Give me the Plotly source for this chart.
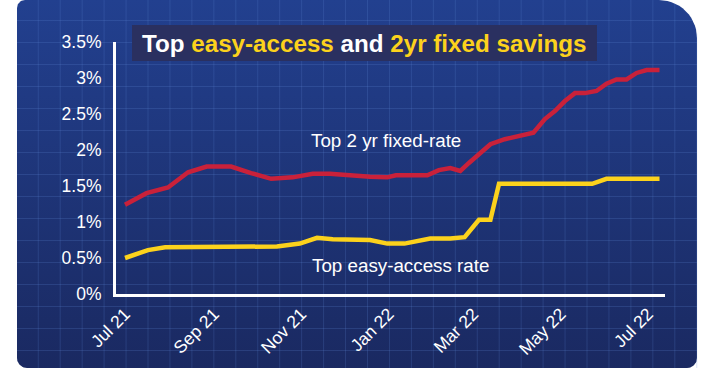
import math
import plotly.graph_objects as go

# ---------------- data ----------------
fixed_dates = ["2021-07-01", "2021-07-16", "2021-07-31", "2021-08-14", "2021-08-27",
               "2021-09-13", "2021-09-27", "2021-10-11", "2021-10-26", "2021-11-09",
               "2021-11-21", "2021-12-03", "2021-12-19", "2021-12-31", "2022-01-06",
               "2022-01-28", "2022-02-05", "2022-02-13", "2022-02-20", "2022-02-26",
               "2022-03-06", "2022-03-13", "2022-03-23", "2022-04-02", "2022-04-12",
               "2022-04-20", "2022-04-27", "2022-05-04", "2022-05-11", "2022-05-18",
               "2022-05-26", "2022-06-02", "2022-06-09", "2022-06-16", "2022-06-23",
               "2022-06-30", "2022-07-09"]
fixed_rate = [1.24, 1.40, 1.48, 1.69, 1.77,
              1.77, 1.68, 1.60, 1.62, 1.67,
              1.67, 1.65, 1.63, 1.62, 1.65,
              1.65, 1.72, 1.75, 1.71, 1.82,
              1.95, 2.08, 2.15, 2.20, 2.24,
              2.43, 2.54, 2.68, 2.79, 2.79,
              2.82, 2.92, 2.98, 2.98, 3.07,
              3.11, 3.11]

easy_dates = ["2021-07-01", "2021-07-17", "2021-07-29", "2021-10-15", "2021-10-31",
              "2021-11-12", "2021-11-23", "2021-12-19", "2021-12-31", "2022-01-12",
              "2022-01-30", "2022-02-13", "2022-02-23", "2022-03-05", "2022-03-13",
              "2022-03-19", "2022-05-23", "2022-06-02", "2022-07-09"]
easy_rate = [0.50, 0.61, 0.65, 0.66, 0.70,
             0.78, 0.76, 0.75, 0.70, 0.70,
             0.77, 0.77, 0.79, 1.03, 1.03,
             1.53, 1.53, 1.60, 1.60]

x_tick_vals = ["2021-07-01", "2021-09-01", "2021-11-01", "2022-01-01",
               "2022-03-01", "2022-05-01", "2022-07-01"]
x_tick_text = ["Jul 21", "Sep 21", "Nov 21", "Jan 22", "Mar 22", "May 22", "Jul 22"]
y_tick_vals = [0, 0.5, 1, 1.5, 2, 2.5, 3, 3.5]
y_tick_text = ["0%", "0.5%", "1%", "1.5%", "2%", "2.5%", "3%", "3.5%"]

title_parts = [("Top ", "white"), ("easy-access", "#fcd21c"), (" and ", "white"),
               ("2yr fixed savings", "#fcd21c")]
label_fixed = "Top 2 yr fixed-rate"
label_easy = "Top easy-access rate"

# ---------------- styling / geometry ----------------
W, H = 713, 390
FONT = "Liberation Sans, Arial, Helvetica, sans-serif"
RED = "#c9213a"
YELLOW = "#fcd21c"
BG_TOP = "#22408f"
BG_BOT = "#1a2961"

# plot area in pixels
PL, PR, PT, PB = 116, 665, 42, 294

# background panel (pixel coords) with individual corner radii
bx0, bx1, by0, by1 = 17, 697, 0, 368
r_tl, r_tr, r_br, r_bl = 8, 38, 10, 10


def arc(cx, cy, r, a0, a1, n=14):
    return [(cx + r * math.cos(math.radians(a0 + (a1 - a0) * i / n)),
             cy + r * math.sin(math.radians(a0 + (a1 - a0) * i / n))) for i in range(n + 1)]


pts = []
pts += arc(bx0 + r_tl, by0 + r_tl, r_tl, 180, 270)
pts += arc(bx1 - r_tr, by0 + r_tr, r_tr, 270, 360)
pts += arc(bx1 - r_br, by1 - r_br, r_br, 0, 90)
pts += arc(bx0 + r_bl, by1 - r_bl, r_bl, 90, 180)
pts.append(pts[0])
bg_x = [p[0] for p in pts]
bg_y = [H - p[1] for p in pts]

# faint grid over the panel
gx, gy = [], []
step = 21.95
x = bx0 - 0.7 + step
while x < bx1:
    ytop = by0
    if x > bx1 - r_tr:
        dx = x - (bx1 - r_tr)
        ytop = by0 + r_tr - math.sqrt(max(r_tr ** 2 - dx ** 2, 0))
    elif x < bx0 + r_tl:
        dx = (bx0 + r_tl) - x
        ytop = by0 + r_tl - math.sqrt(max(r_tl ** 2 - dx ** 2, 0))
    gx += [x, x, None]
    gy += [H - ytop, H - by1, None]
    x += step
y = 20.5
while y < by1:
    xr = bx1
    if y < by0 + r_tr:
        dy = (by0 + r_tr) - y
        xr = bx1 - r_tr + math.sqrt(max(r_tr ** 2 - dy ** 2, 0))
    gx += [bx0, xr, None]
    gy += [H - y, H - y, None]
    y += 22

# title box
tb_x0, tb_x1, tb_y0, tb_y1 = 132, 597, 25, 61

fig = go.Figure()

fig.add_trace(go.Scatter(
    x=bg_x, y=bg_y, mode="lines", fill="toself", line=dict(width=0),
    fillgradient=dict(type="vertical", colorscale=[[0, BG_BOT], [1, BG_TOP]]),
    hoverinfo="skip", showlegend=False, xaxis="x", yaxis="y"))
fig.add_trace(go.Scatter(
    x=gx, y=gy, mode="lines", line=dict(color="rgba(95,135,215,0.22)", width=1),
    hoverinfo="skip", showlegend=False, xaxis="x", yaxis="y"))
fig.add_trace(go.Scatter(
    x=[tb_x0, tb_x1, tb_x1, tb_x0, tb_x0], y=[H - tb_y0, H - tb_y0, H - tb_y1, H - tb_y1, H - tb_y0],
    mode="lines", fill="toself", fillcolor="#2a3060", line=dict(width=0),
    hoverinfo="skip", showlegend=False, xaxis="x", yaxis="y"))

fig.add_trace(go.Scatter(
    x=fixed_dates, y=fixed_rate, mode="lines", line=dict(color=RED, width=4.5),
    name=label_fixed, showlegend=False, xaxis="x2", yaxis="y2"))
fig.add_trace(go.Scatter(
    x=easy_dates, y=easy_rate, mode="lines", line=dict(color=YELLOW, width=4.5),
    name=label_easy, showlegend=False, xaxis="x2", yaxis="y2"))

title_html = "".join(f"<span style='color:{c}'>{t}</span>" for t, c in title_parts)

fig.update_layout(
    width=W, height=H,
    margin=dict(l=0, r=0, t=0, b=0, pad=0, autoexpand=False),
    paper_bgcolor="white",
    plot_bgcolor="rgba(0,0,0,0)",
    showlegend=False,
    font=dict(family=FONT, color="white"),
    xaxis=dict(domain=[0, 1], range=[0, W], visible=False, fixedrange=True, automargin=False),
    yaxis=dict(domain=[0, 1], range=[0, H], visible=False, fixedrange=True, automargin=False),
    xaxis2=dict(
        domain=[PL / W, PR / W], anchor="y2", type="date", automargin=False,
        range=["2021-06-24 17:00", "2022-07-12 20:00"],
        tickvals=x_tick_vals, ticktext=x_tick_text, tickangle=-45,
        tickfont=dict(size=17.5, color="white", family=FONT),
        showgrid=False, zeroline=False, showline=True, linecolor="white", linewidth=3,
        ticks="", ticklabelstandoff=0, ticklabelshift=0),
    yaxis2=dict(
        domain=[(H - PB) / H, (H - PT) / H], anchor="x2", range=[0, 3.5], automargin=False,
        tickvals=y_tick_vals, ticktext=y_tick_text,
        tickfont=dict(size=17.5, color="white", family=FONT),
        showgrid=False, zeroline=False, showline=True, linecolor="white", linewidth=3,
        ticks="", ticklabelstandoff=8),
    annotations=[
        dict(x=(tb_x0 + tb_x1) / 2, y=H - (tb_y0 + tb_y1) / 2, xref="x", yref="y",
             text=f"<b>{title_html}</b>", showarrow=False,
             font=dict(size=24.2, family=FONT), xanchor="center", yanchor="middle"),
        dict(x="2021-12-30", y=2.125, xref="x2", yref="y2", text=label_fixed,
             showarrow=False, font=dict(size=18.8, color="white", family=FONT)),
        dict(x="2022-01-09", y=0.39, xref="x2", yref="y2", text=label_easy,
             showarrow=False, font=dict(size=18.8, color="white", family=FONT)),
    ],
)

fig.write_html("out.html", config={"displayModeBar": False},
               post_script="document.body.style.margin='0px';")
